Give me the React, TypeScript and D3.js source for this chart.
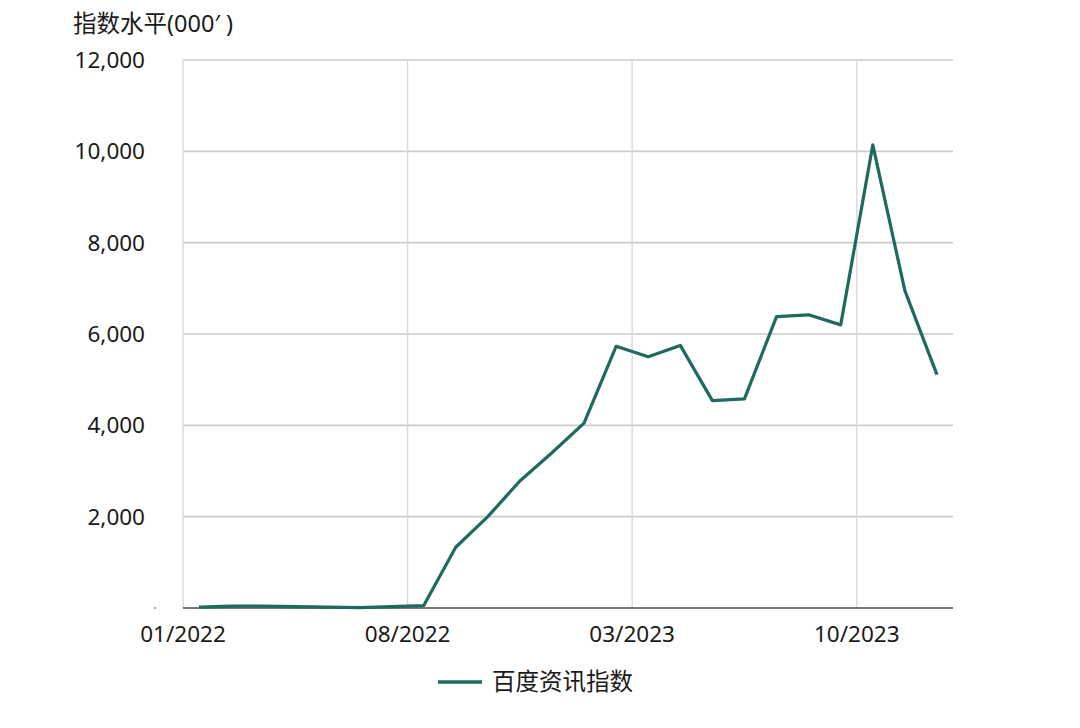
import { useEffect, useRef } from "react";
import * as d3 from "d3";

// monthly index values (thousands), Jan 2022 – Dec 2023
const months = [
  "2022-01", "2022-02", "2022-03", "2022-04", "2022-05", "2022-06",
  "2022-07", "2022-08", "2022-09", "2022-10", "2022-11", "2022-12",
  "2023-01", "2023-02", "2023-03", "2023-04", "2023-05", "2023-06",
  "2023-07", "2023-08", "2023-09", "2023-10", "2023-11", "2023-12",
];
const baiduIndex = [
  20, 40, 40, 30, 20, 10, 30, 50,
  1330, 2000, 2780, 3400, 4050, 5730, 5500, 5750,
  4540, 4580, 6380, 6420, 6200, 10140, 6950, 5110,
];
const xTickIdx = [0, 7, 14, 21];
const xTickLabels = ["01/2022", "08/2022", "03/2023", "10/2023"];
const yTicks = [2000, 4000, 6000, 8000, 10000, 12000];
const seriesName = "百度资讯指数";
const yTitle = "指数水平(000′ )";

const WIDTH = 1080;
const HEIGHT = 728;
const LINE_COLOR = "#1e6a5e";
const FONT = "'Noto Sans', 'Noto Sans CJK SC', sans-serif";

export default function App() {
  const ref = useRef<SVGSVGElement>(null);

  useEffect(() => {
    if (!ref.current) return;
    const svg = d3.select(ref.current);
    svg.selectAll("*").remove();

    const x = d3.scaleLinear().domain([0, months.length]).range([183, 953]);
    const y = d3.scaleLinear().domain([0, 12000]).range([608, 60]);

    // horizontal grid
    svg
      .append("g")
      .selectAll("line")
      .data(yTicks)
      .join("line")
      .attr("x1", x(0))
      .attr("x2", x(months.length))
      .attr("y1", (d) => y(d))
      .attr("y2", (d) => y(d))
      .attr("stroke", "#cbcbcb")
      .attr("stroke-width", 1.6);

    // vertical grid
    svg
      .append("g")
      .selectAll("line")
      .data(xTickIdx)
      .join("line")
      .attr("x1", (d) => x(d))
      .attr("x2", (d) => x(d))
      .attr("y1", y(12000))
      .attr("y2", y(0))
      .attr("stroke", "#dadada")
      .attr("stroke-width", 1.4);

    // baseline
    svg
      .append("line")
      .attr("x1", x(0))
      .attr("x2", x(months.length))
      .attr("y1", y(0))
      .attr("y2", y(0))
      .attr("stroke", "#4a4a4a")
      .attr("stroke-width", 1.6);

    // y labels
    svg
      .append("g")
      .selectAll("text")
      .data(yTicks)
      .join("text")
      .attr("x", 145)
      .attr("y", (d) => y(d))
      .attr("dy", "0.35em")
      .attr("text-anchor", "end")
      .attr("font-family", FONT)
      .attr("font-size", 22.5)
      .attr("fill", "#1a1a1a")
      .text((d) => d3.format(",")(d));

    // tiny leftover mark at zero
    svg
      .append("circle")
      .attr("cx", 155)
      .attr("cy", y(0))
      .attr("r", 1)
      .attr("fill", "#888");

    // y title
    svg
      .append("text")
      .attr("x", 73)
      .attr("y", 32)
      .attr("font-family", FONT)
      .attr("font-size", 23.5)
      .attr("fill", "#1a1a1a")
      .text(yTitle);

    // x labels
    svg
      .append("g")
      .selectAll("text")
      .data(xTickIdx)
      .join("text")
      .attr("x", (d) => x(d))
      .attr("y", 642)
      .attr("text-anchor", "middle")
      .attr("font-family", FONT)
      .attr("font-size", 22.5)
      .attr("fill", "#1a1a1a")
      .text((_, i) => xTickLabels[i]);

    // series line
    const line = d3
      .line<number>()
      .x((_, i) => x(i + 0.5))
      .y((d) => y(d));
    svg
      .append("path")
      .datum(baiduIndex)
      .attr("d", line)
      .attr("fill", "none")
      .attr("stroke", LINE_COLOR)
      .attr("stroke-width", 3.2)
      .attr("stroke-linejoin", "round");

    // legend
    svg
      .append("line")
      .attr("x1", 438)
      .attr("x2", 482)
      .attr("y1", 682)
      .attr("y2", 682)
      .attr("stroke", LINE_COLOR)
      .attr("stroke-width", 3.5);
    svg
      .append("text")
      .attr("x", 492)
      .attr("y", 682)
      .attr("dy", "0.35em")
      .attr("font-family", FONT)
      .attr("font-size", 23.5)
      .attr("fill", "#1a1a1a")
      .text(seriesName);
  }, []);

  return (
    <svg
      ref={ref}
      width={WIDTH}
      height={HEIGHT}
      style={{ position: "absolute", left: 0, top: 0, background: "#fff" }}
    />
  );
}
